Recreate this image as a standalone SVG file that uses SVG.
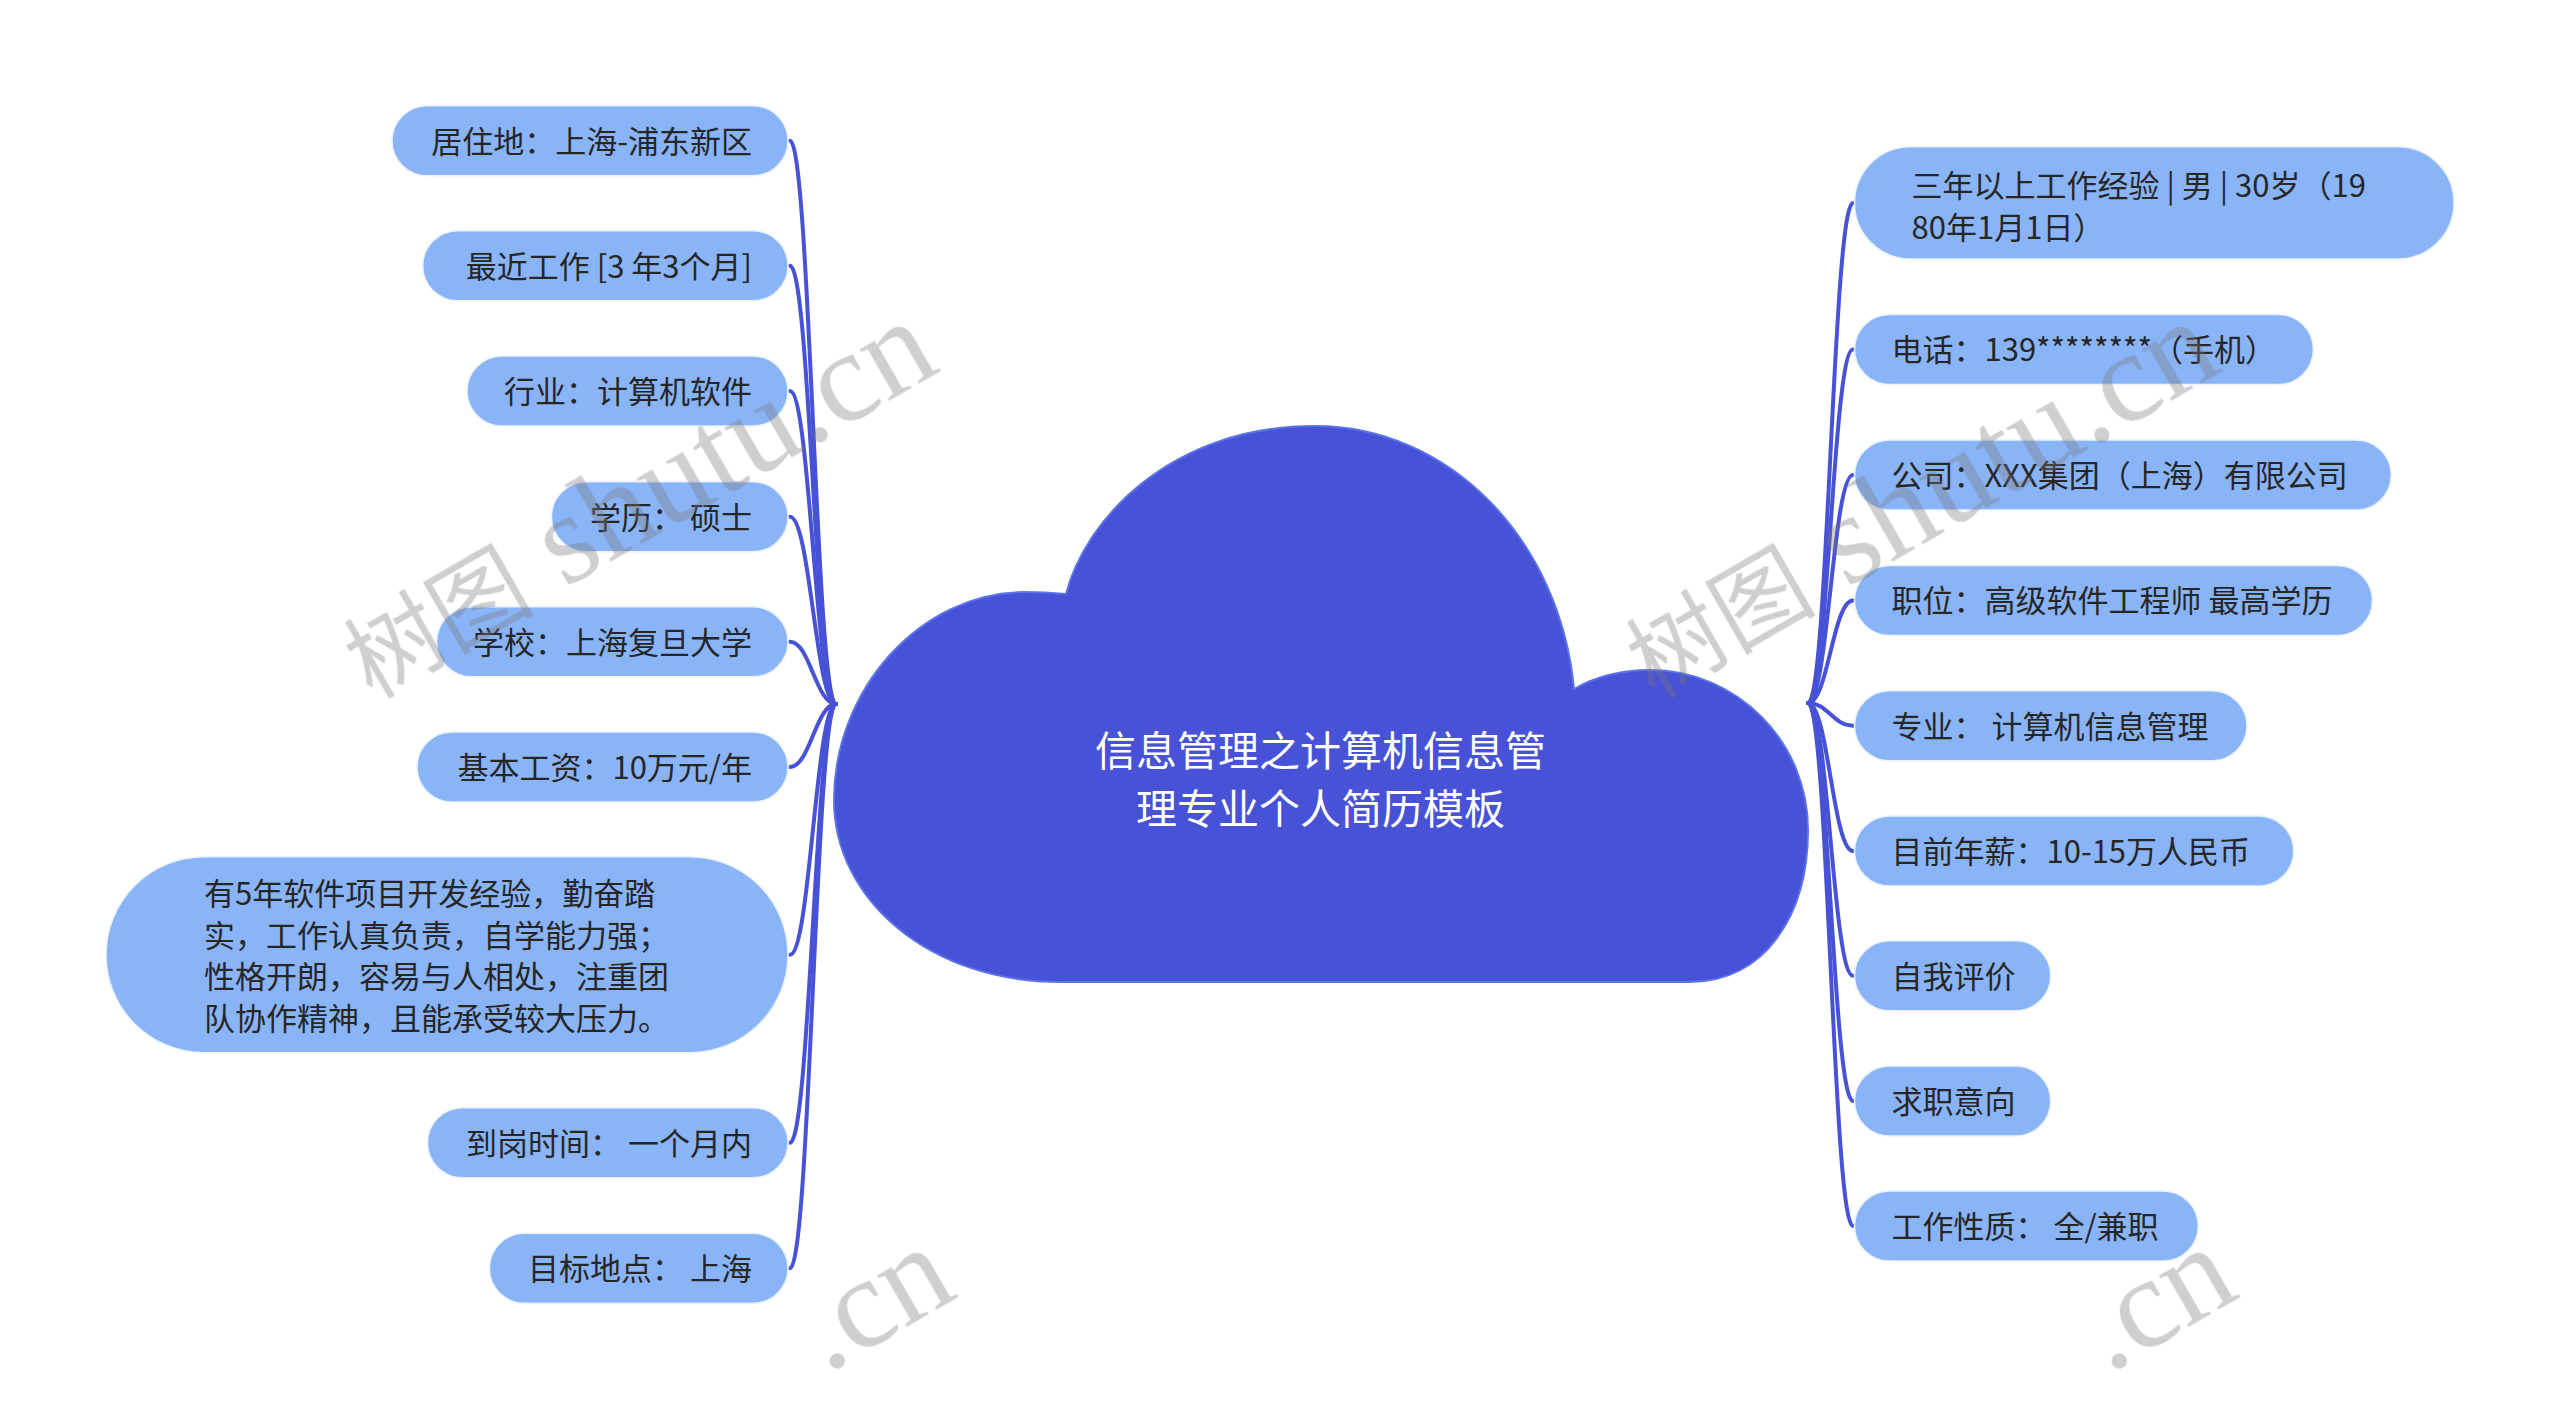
<svg xmlns="http://www.w3.org/2000/svg" width="2560" height="1409" viewBox="0 0 2560 1409">
<style>
.bg{fill:#ffffff}
.node rect{fill:#8ab4f8;stroke:#eaf2ff;stroke-width:1.5}
.node text{font-family:"Noto Sans CJK SC","Noto Sans",sans-serif;font-size:31px;fill:#262626}
.lt{text-anchor:end}
.conn path{fill:none;stroke:#4752d6;stroke-width:4;stroke-linecap:round}
.cloud{fill:#4752d6;stroke:#5b73e8;stroke-width:2}
.title{font-family:"Noto Sans CJK SC","Noto Sans",sans-serif;font-size:41px;fill:#ffffff;text-anchor:middle}
.wm{font-family:"Liberation Serif","Noto Sans CJK SC",serif;fill:#7a7a7a;opacity:0.36}
</style>
<rect class="bg" x="0" y="0" width="2560" height="1409"/>

<g id="connectors" class="conn">
<path d="M836 704 C816 704 810 140.7 790 140.7"/>
<path d="M836 704 C816 704 810 265.7 790 265.7"/>
<path d="M836 704 C816 704 810 391 790 391"/>
<path d="M836 704 C816 704 810 516.7 790 516.7"/>
<path d="M836 704 C816 704 810 641.8 790 641.8"/>
<path d="M836 704 C816 704 810 767 790 767"/>
<path d="M836 704 C816 704 810 954.7 790 954.7"/>
<path d="M836 704 C816 704 810 1142.7 790 1142.7"/>
<path d="M836 704 C816 704 810 1268.3 790 1268.3"/>
<path d="M1808 703 C1828 703 1833 203 1853 203"/>
<path d="M1808 703 C1828 703 1833 349.5 1853 349.5"/>
<path d="M1808 703 C1828 703 1833 475 1853 475"/>
<path d="M1808 703 C1828 703 1833 600.5 1853 600.5"/>
<path d="M1808 703 C1828 703 1833 725.7 1853 725.7"/>
<path d="M1808 703 C1828 703 1833 851 1853 851"/>
<path d="M1808 703 C1828 703 1833 975.7 1853 975.7"/>
<path d="M1808 703 C1828 703 1833 1101 1853 1101"/>
<path d="M1808 703 C1828 703 1833 1226 1853 1226"/>
</g>

<g id="root">
<path class="cloud" d="M1066 594 C1085 520 1170 426 1315 426 C1450 426 1560 540 1574 689 C1600 674 1625 670 1650 670 C1737 670 1808 741.6 1808 830 C1808 915 1765 982 1690 982 L1060 982 C930 982 834 900 834 800 C834 690 920 592 1025 592 C1040 592 1055 593 1066 594 Z"/>
<text class="title" x="1320.5" y="766">信息管理之计算机信息管</text>
<text class="title" x="1320.5" y="824">理专业个人简历模板</text>
</g>

<g id="l1" class="node"><rect x="392" y="105.7" width="396" height="70" rx="35"/><text class="lt" x="752" y="152.5">居住地：上海-浦东新区</text></g>
<g id="l2" class="node"><rect x="422.7" y="230.7" width="365.3" height="70" rx="35"/><text class="lt" x="752" y="277.5">最近工作 [3 年3个月]</text></g>
<g id="l3" class="node"><rect x="467" y="356" width="321" height="70" rx="35"/><text class="lt" x="752" y="402.8">行业：计算机软件</text></g>
<g id="l4" class="node"><rect x="551.4" y="481.7" width="236.6" height="70" rx="35"/><text class="lt" x="752" y="528.5">学历： 硕士</text></g>
<g id="l5" class="node"><rect x="436.7" y="606.8" width="351.3" height="70" rx="35"/><text class="lt" x="752" y="653.6">学校：上海复旦大学</text></g>
<g id="l6" class="node"><rect x="417" y="732" width="371" height="70" rx="35"/><text class="lt" x="752" y="778.8">基本工资：10万元/年</text></g>
<g id="l7" class="node"><rect x="106" y="856.7" width="682" height="196" rx="98"/>
<text x="204" y="905">有5年软件项目开发经验，勤奋踏</text>
<text x="204" y="946.7">实，工作认真负责，自学能力强；</text>
<text x="204" y="988.4">性格开朗，容易与人相处，注重团</text>
<text x="204" y="1030.1">队协作精神，且能承受较大压力。</text></g>
<g id="l8" class="node"><rect x="427.5" y="1107.7" width="360.5" height="70" rx="35"/><text class="lt" x="752" y="1154.5">到岗时间： 一个月内</text></g>
<g id="l9" class="node"><rect x="489.4" y="1233.3" width="298.6" height="70" rx="35"/><text class="lt" x="752" y="1280.1">目标地点： 上海</text></g>

<g id="r1" class="node"><rect x="1854.5" y="146.7" width="599.5" height="112.3" rx="56"/>
<text x="1911.6" y="196.8">三年以上工作经验 | 男 | 30岁（19</text>
<text x="1911.6" y="238.5">80年1月1日）</text></g>
<g id="r2" class="node"><rect x="1854.5" y="314.5" width="458.9" height="70" rx="35"/><text x="1891.5" y="361.3">电话：139********（手机）</text></g>
<g id="r3" class="node"><rect x="1854.5" y="440" width="536.8" height="70" rx="35"/><text x="1891.5" y="486.8">公司：XXX集团（上海）有限公司</text></g>
<g id="r4" class="node"><rect x="1854.5" y="565.5" width="517.9" height="70" rx="35"/><text x="1891.5" y="612.3">职位：高级软件工程师 最高学历</text></g>
<g id="r5" class="node"><rect x="1854.5" y="690.7" width="392.5" height="70" rx="35"/><text x="1891.5" y="737.5">专业： 计算机信息管理</text></g>
<g id="r6" class="node"><rect x="1854.5" y="816" width="439.2" height="70" rx="35"/><text x="1891.5" y="862.8">目前年薪：10-15万人民币</text></g>
<g id="r7" class="node"><rect x="1854.5" y="940.7" width="196.2" height="70" rx="35"/><text x="1891.5" y="987.5">自我评价</text></g>
<g id="r8" class="node"><rect x="1854.5" y="1066" width="196.2" height="70" rx="35"/><text x="1891.5" y="1112.8">求职意向</text></g>
<g id="r9" class="node"><rect x="1854.5" y="1191" width="343.8" height="70" rx="35"/><text x="1891.5" y="1237.8">工作性质： 全/兼职</text></g>

<g id="watermark" class="wm" font-size="130">
<text transform="translate(372 700) rotate(-30)"><tspan font-size="95">树图</tspan> shutu.cn</text>
<text transform="translate(1654 700) rotate(-30)"><tspan font-size="95">树图</tspan> shutu.cn</text>
<text transform="translate(826 1374) rotate(-30)">.cn</text>
<text transform="translate(2108 1374) rotate(-30)">.cn</text>
</g>
</svg>
